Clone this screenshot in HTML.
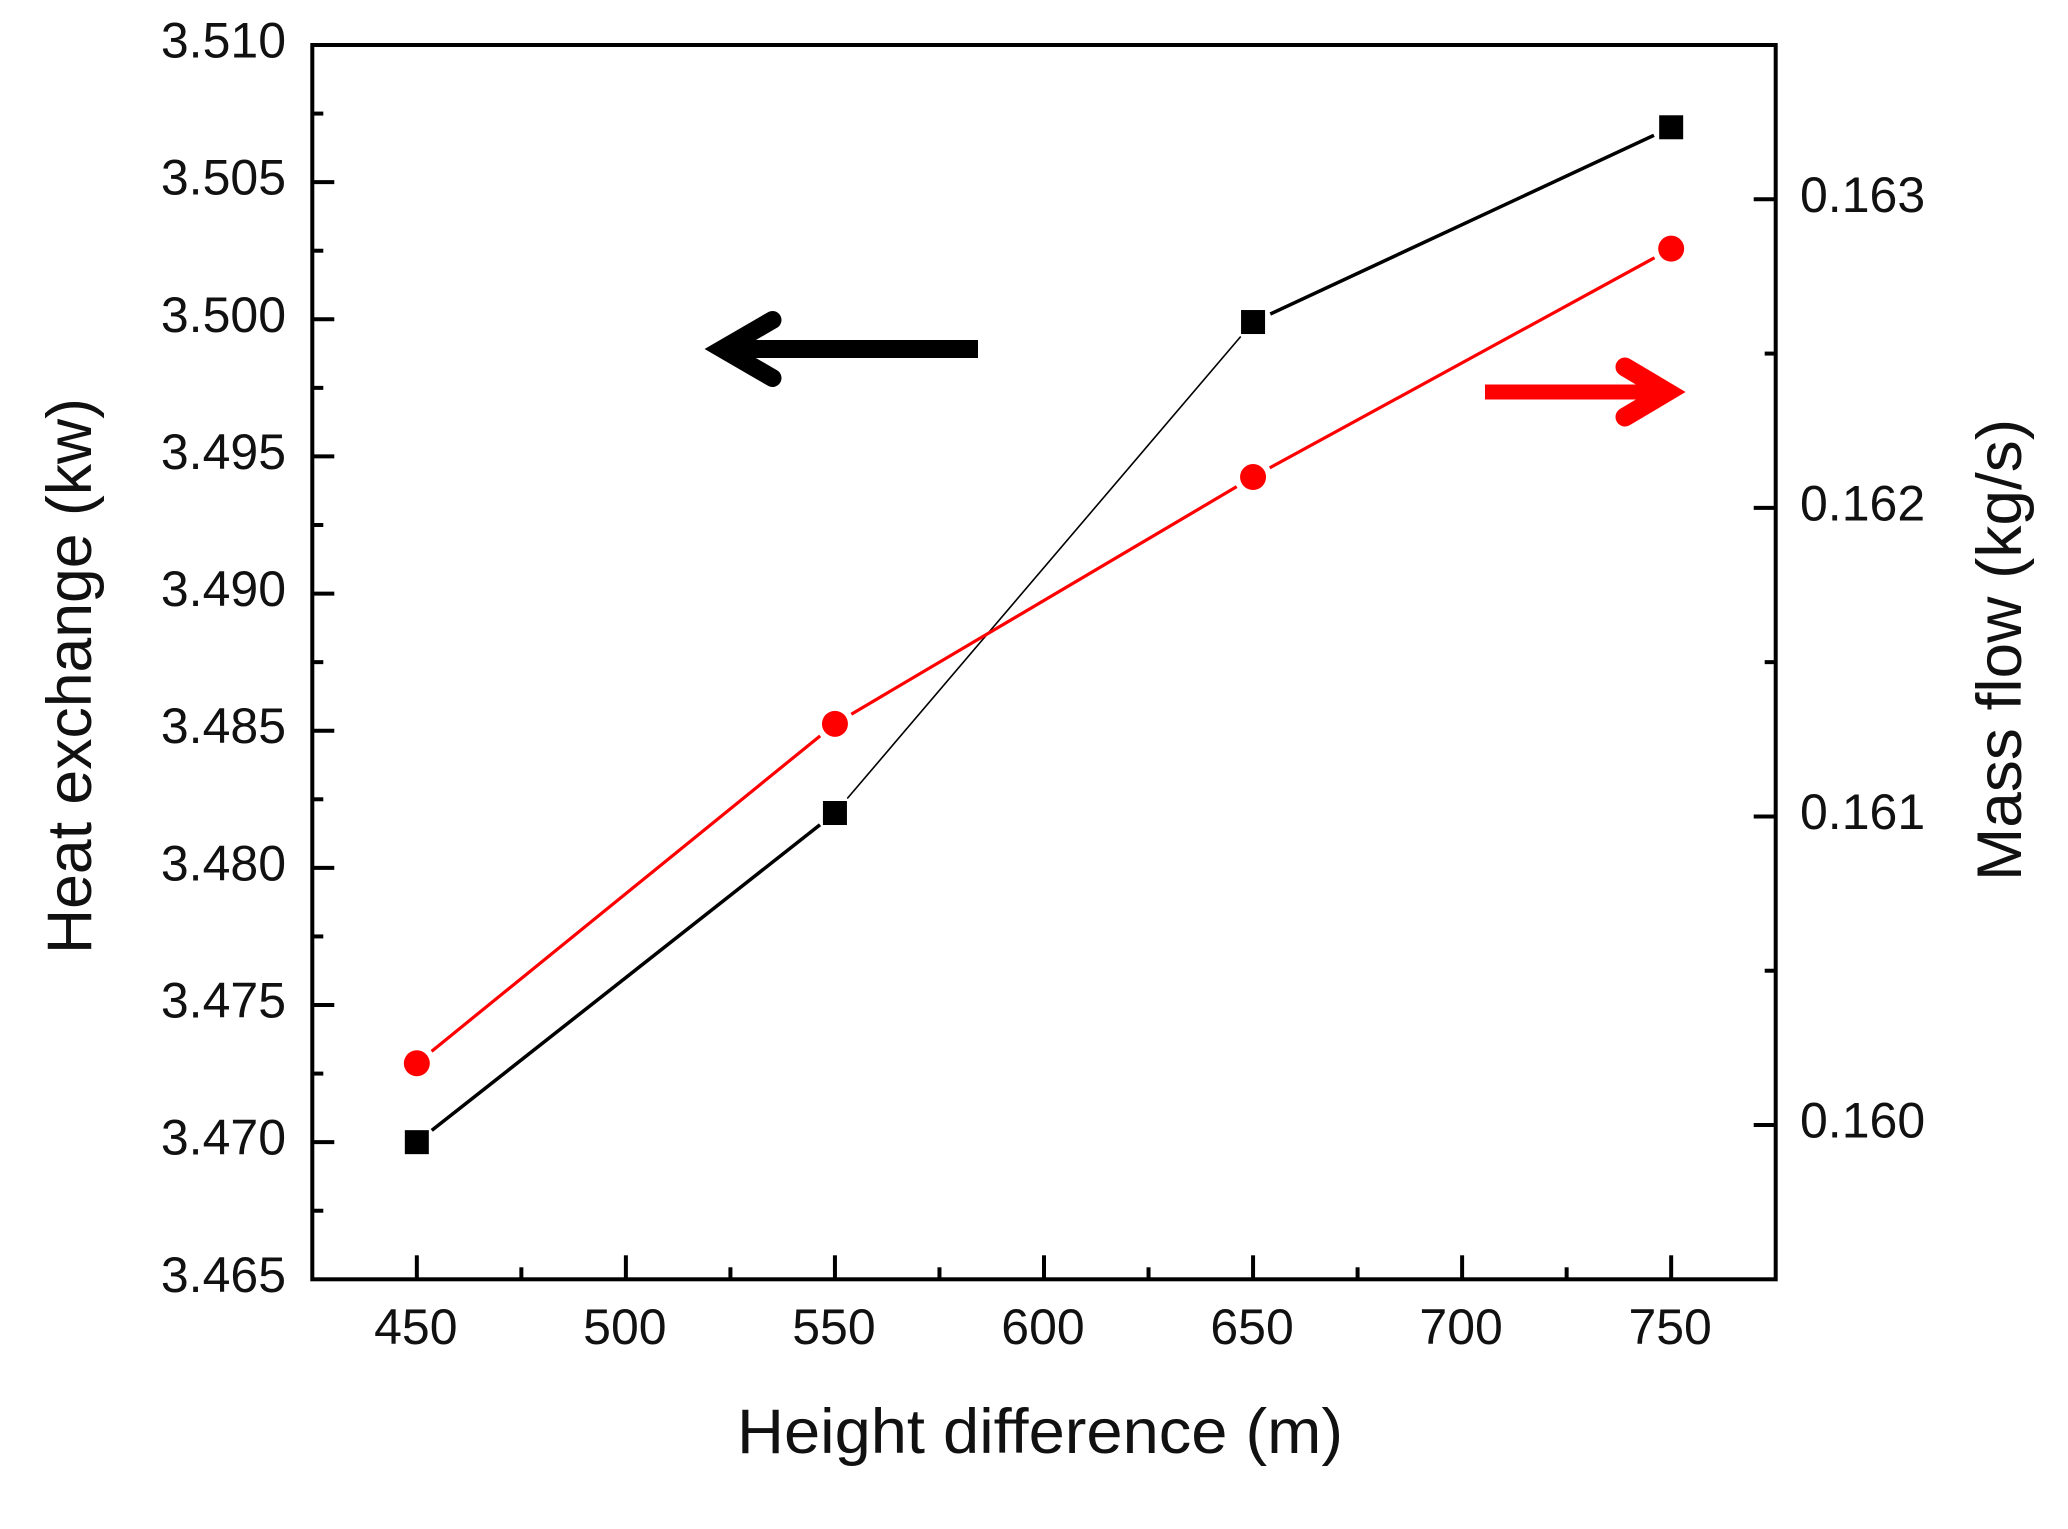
<!DOCTYPE html>
<html lang="en">
<head>
<meta charset="utf-8">
<title>Heat exchange and mass flow versus height difference</title>
<style>
  html, body { margin: 0; padding: 0; background: #fff; }
  svg { display: block; }
  text { font-family: "Liberation Sans", Arial, sans-serif; fill: #111; }
</style>
</head>
<body>
<svg id="chart" xmlns="http://www.w3.org/2000/svg" width="2068" height="1529" viewBox="0 0 2068 1529">
  <rect x="0" y="0" width="2068" height="1529" fill="#fff"/>
  <g id="series-layer"></g>
  <g id="axis-layer"></g>
  <polyline points="978,349 730,349" fill="none" stroke="#000" stroke-width="18"/>
  <polyline points="772.5,320 722.5,349 772.5,378" fill="none" stroke="#000" stroke-width="18" stroke-linecap="round" stroke-linejoin="miter" stroke-miterlimit="6"/>
  <polyline points="1485,392 1665,392" fill="none" stroke="#f00" stroke-width="15"/>
  <polyline points="1625,367 1667,392 1625,417" fill="none" stroke="#f00" stroke-width="19" stroke-linecap="round" stroke-linejoin="miter" stroke-miterlimit="6"/>
  <text x="1040" y="1453" font-size="63" text-anchor="middle" textLength="606" lengthAdjust="spacingAndGlyphs">Height difference (m)</text>
  <text transform="translate(91 676) rotate(-90)" font-size="63" text-anchor="middle" textLength="556" lengthAdjust="spacingAndGlyphs">Heat exchange (kw)</text>
  <text transform="translate(2021 650) rotate(-90)" font-size="63" text-anchor="middle" textLength="462" lengthAdjust="spacingAndGlyphs">Mass flow (kg/s)</text>
</svg>
<script>
const categories = [450, 550, 650, 750];
const heatExchange = [3.470, 3.482, 3.4999, 3.507];
const massFlow = [0.16020, 0.16130, 0.16210, 0.16284];
const xTickLabels = ["450", "500", "550", "600", "650", "700", "750"];
const xMinorTicks = [475, 525, 575, 625, 675, 725];
const leftTickLabels = ["3.465", "3.470", "3.475", "3.480", "3.485", "3.490", "3.495", "3.500", "3.505", "3.510"];
const leftMinorTicks = [3.4675, 3.4725, 3.4775, 3.4825, 3.4875, 3.4925, 3.4975, 3.5025, 3.5075];
const rightTickLabels = ["0.160", "0.161", "0.162", "0.163"];
const rightMinorTicks = [0.1605, 0.1615, 0.1625];

const plotLeft = 312.3, plotRight = 1775.7, plotTop = 45, plotBottom = 1279.3;
const xDomain = [425, 775], leftDomain = [3.465, 3.510], rightDomain = [0.1595, 0.1635];
function xScale(v) { return plotLeft + (v - xDomain[0]) / (xDomain[1] - xDomain[0]) * (plotRight - plotLeft); }
function leftScale(v) { return plotBottom - (v - leftDomain[0]) / (leftDomain[1] - leftDomain[0]) * (plotBottom - plotTop); }
function rightScale(v) { return plotBottom - (v - rightDomain[0]) / (rightDomain[1] - rightDomain[0]) * (plotBottom - plotTop); }

const NS = "http://www.w3.org/2000/svg";
const axisLayer = document.getElementById("axis-layer");
const seriesLayer = document.getElementById("series-layer");

function make(tag, parent, attrs) {
  const el = document.createElementNS(NS, tag);
  for (const k in attrs) el.setAttribute(k, attrs[k]);
  parent.appendChild(el);
  return el;
}

const frame = make("rect", axisLayer, { x: plotLeft, y: plotTop, width: plotRight - plotLeft, height: plotBottom - plotTop, fill: "none", stroke: "#000", "stroke-width": 4 });



function drawVerticalTick(x, len) {
  const t = make("line", axisLayer, { x1: x, x2: x, y1: plotBottom, y2: plotBottom - len, stroke: "#000", "stroke-width": 4 });
  
  
}
function drawLeftTick(y, len) {
  const t = make("line", axisLayer, { x1: plotLeft, x2: plotLeft + len, y1: y, y2: y, stroke: "#000", "stroke-width": 4 });
  
  
}
function drawRightTick(y, len) {
  const t = make("line", axisLayer, { x1: plotRight, x2: plotRight - len, y1: y, y2: y, stroke: "#000", "stroke-width": 4 });
  
  
}

xTickLabels.forEach(function (label) {
  const x = xScale(parseFloat(label));
  drawVerticalTick(x, 24);
  const t = make("text", axisLayer, { x: x - 1, y: 1344, "font-size": 50, "text-anchor": "middle" });
  t.textContent = label;
  
  
});
xMinorTicks.forEach(function (v) { drawVerticalTick(xScale(v), 12); });

leftTickLabels.forEach(function (label) {
  const v = parseFloat(label), y = leftScale(v);
  if (v > leftDomain[0] && v < leftDomain[1]) drawLeftTick(y, 22);
  const t = make("text", axisLayer, { x: 286, y: y + 12.5, "font-size": 50, "text-anchor": "end" });
  t.textContent = label;
  
  
});
leftMinorTicks.forEach(function (v) { drawLeftTick(leftScale(v), 11); });

rightTickLabels.forEach(function (label) {
  const y = rightScale(parseFloat(label));
  drawRightTick(y, 22);
  const t = make("text", axisLayer, { x: 1800, y: y + 12.5, "font-size": 50 });
  t.textContent = label;
  
  
});
rightMinorTicks.forEach(function (v) { drawRightTick(rightScale(v), 11); });

const markerGap = 19;
function drawSegments(values, yScale, color, widths, seriesName) {
  for (let i = 0; i < values.length - 1; i++) {
    const x1 = xScale(categories[i]), y1 = yScale(values[i]);
    const x2 = xScale(categories[i + 1]), y2 = yScale(values[i + 1]);
    const len = Math.hypot(x2 - x1, y2 - y1);
    const ux = (x2 - x1) / len, uy = (y2 - y1) / len;
    const seg = make("line", seriesLayer, {
      x1: x1 + ux * markerGap, y1: y1 + uy * markerGap,
      x2: x2 - ux * markerGap, y2: y2 - uy * markerGap,
      stroke: color, "stroke-width": widths[i]
    });
    
    
  }
}

drawSegments(heatExchange, leftScale, "#000", [3.5, 1.6, 3.5], "heat-exchange");
drawSegments(massFlow, rightScale, "#f00", [3.2, 3.2, 3.2], "mass-flow");

heatExchange.forEach(function (v, i) {
  const m = make("rect", seriesLayer, { x: xScale(categories[i]) - 12, y: leftScale(v) - 12, width: 24, height: 24, fill: "#000" });
  
  
});
massFlow.forEach(function (v, i) {
  const m = make("circle", seriesLayer, { cx: xScale(categories[i]), cy: rightScale(v), r: 13, fill: "#f00" });
  
  
});
</script>
</body>
</html>
